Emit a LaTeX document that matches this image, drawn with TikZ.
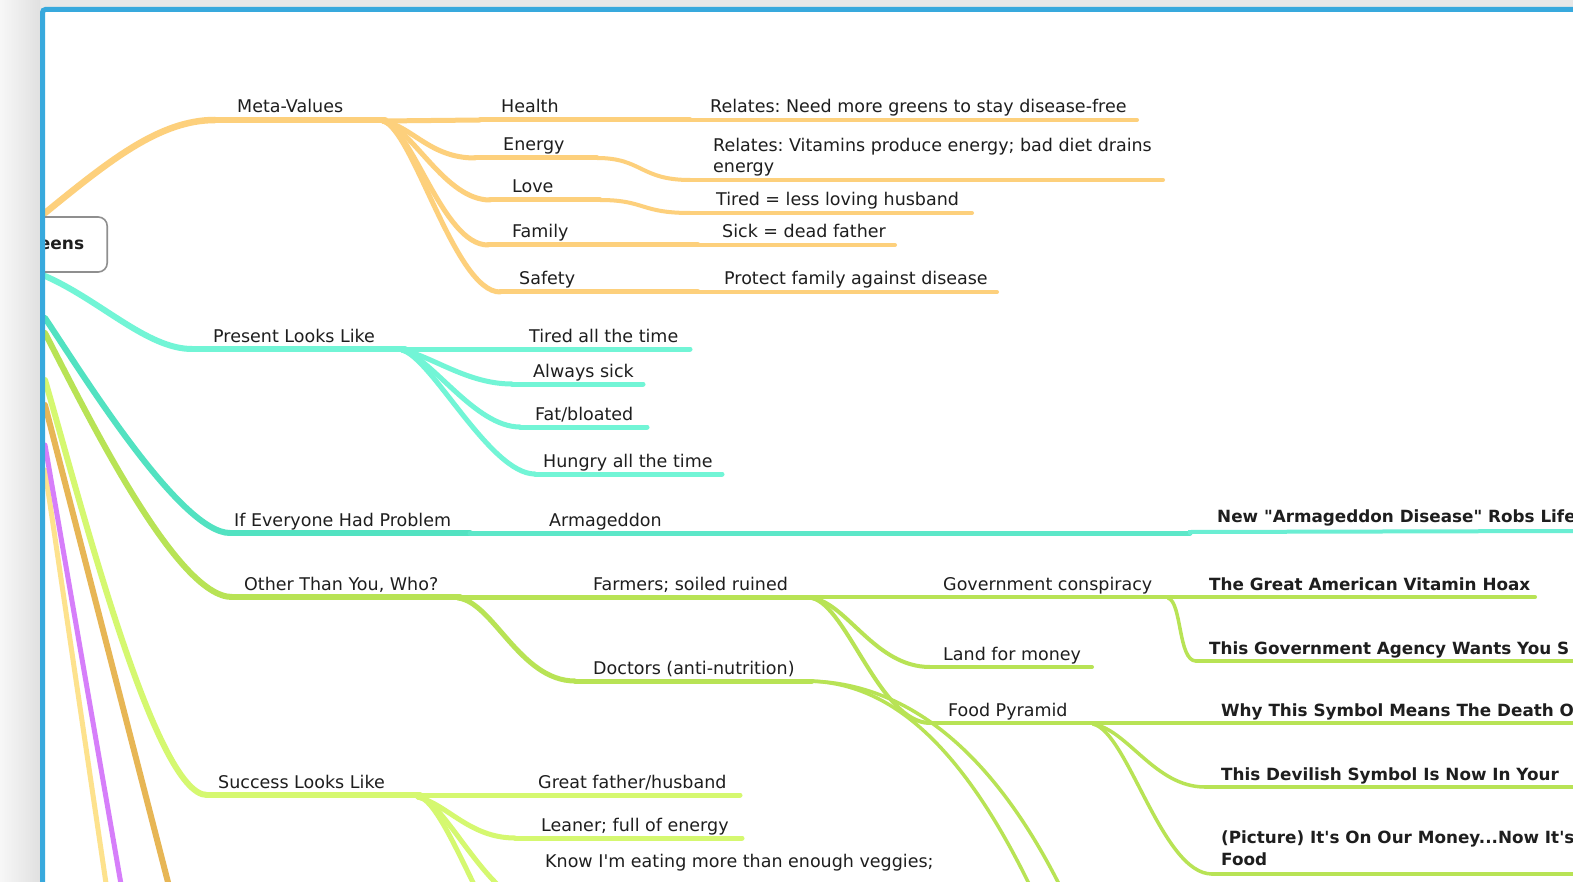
\documentclass[tikz,border=0pt]{standalone}
\usepackage{fontspec}
\setmainfont{DejaVu Sans}
\newfontfamily\dv{DejaVu Sans}
\frenchspacing
\definecolor{bggray}{HTML}{E8E8E8}
\definecolor{frameblue}{HTML}{38A9DD}
\definecolor{cOrange}{HTML}{FDD07C}
\definecolor{cTeal}{HTML}{72F5D6}
\definecolor{cTealD}{HTML}{52E2C1}
\definecolor{cTealL}{HTML}{6AEED3}
\definecolor{cGreen}{HTML}{B8E355}
\definecolor{cLime}{HTML}{D5F870}
\definecolor{cGold}{HTML}{E7B655}
\definecolor{cPurple}{HTML}{D67EFA}
\definecolor{cPale}{HTML}{FDE28D}
\definecolor{rootgray}{HTML}{8F8F8F}
\definecolor{txt}{HTML}{1E1E1E}
\tikzset{
  ln/.style={line cap=round},
  lbl/.style={anchor=base west, inner sep=0pt, text=txt, font=\dv\fontsize{17.5}{21.5}\selectfont\frenchspacing},
  hd/.style={anchor=base west, inner sep=0pt, text=txt, font=\dv\fontsize{16.8}{21.5}\selectfont\bfseries\frenchspacing},
  rootbox/.style={draw=rootgray, line width=1.6pt, rounded corners=9pt, fill=white,
    minimum height=55pt, minimum width=100pt, inner xsep=23pt, text width=54pt, align=right,
    text=txt, font=\dv\fontsize{17}{20}\selectfont\bfseries},
}
% topic: name, x1, x2, y, xtext, line style, label style, text
\newcommand\tp[8]{%
  \coordinate (#1-a) at (#2,#4);
  \coordinate (#1-b) at (#3,#4);
  \draw[ln,#6] (#1-a) -- (#1-b);
  \node[#7] (#1) at (#5,{#4-7}) {#8};
}
% connector: from, to, style, first control (rel. to start), second control (rel. to end)
\newcommand\cn[5]{\draw[ln,#3] (#1) .. controls +(#4) and +(#5) .. (#2);}
\begin{document}
\begin{tikzpicture}[x=1pt,y=-1pt]
\useasboundingbox (0,0) rectangle (1573,882);
% background and canvas
\fill[bggray] (0,0) rectangle (1573,882);
\shade[left color=white!97!black, right color=white!88!black] (0,0) rectangle (40,882);
\fill[white] (42,9) rectangle (1573,882);

\begin{scope}
\clip (44,11) rectangle (1573,882);

% ---------- root anchors
\coordinate (r-mv) at (45,213);
\coordinate (r-pr) at (45,276);
\coordinate (r-if) at (45,318);
\coordinate (r-ot) at (45,333);
\coordinate (r-su) at (45,380);
\coordinate (r-go) at (45,405);
\coordinate (r-pu) at (45,445);
\coordinate (r-pa) at (45,470);
\coordinate (e-go) at (170,890);
\coordinate (e-pu) at (122,890);
\coordinate (e-pa) at (107,890);

% ---------- off-canvas branches
\draw[ln,cPale,line width=5pt] (r-pa) -- (e-pa);
\draw[ln,cPurple,line width=5pt] (r-pu) -- (e-pu);
\draw[ln,cGold,line width=6pt] (r-go) -- (e-go);

% ---------- Meta-Values (orange)
\tp{mv}{215}{385}{120}{237}{cOrange,line width=6.5pt}{lbl}{Meta-Values}
\cn{r-mv}{mv-a}{cOrange,line width=6.5pt}{65,-53}{-55,0}
\coordinate (mv-f) at (383,121);
\tp{health}{480}{690}{120}{501}{cOrange,line width=5pt}{lbl}{Health}
\draw[ln,cOrange,line width=5pt] (mv-f) -- (health-a);
\tp{rel1}{690}{1137}{120}{710}{cOrange,line width=4pt}{lbl}{Relates: Need more greens to stay disease-free}
\tp{energy}{475}{597}{158}{503}{cOrange,line width=5pt}{lbl}{Energy}
\cn{mv-f}{energy-a}{cOrange,line width=5pt}{30,6}{-45,0}
\coordinate (rel2-a) at (690,180);
\coordinate (rel2-b) at (1163,180);
\draw[ln,cOrange,line width=4pt] (rel2-a) -- (rel2-b);
\node[lbl,align=left] (rel2) at (713,173) {Relates: Vitamins produce energy; bad diet drains\\energy};
\cn{energy-b}{rel2-a}{cOrange,line width=4pt}{45,0}{-50,0}
\tp{love}{490}{600}{200}{512}{cOrange,line width=5pt}{lbl}{Love}
\cn{mv-f}{love-a}{cOrange,line width=5pt}{30,8}{-45,0}
\tp{tired}{690}{972}{213}{716}{cOrange,line width=4pt}{lbl}{Tired = less loving husband}
\cn{love-b}{tired-a}{cOrange,line width=4pt}{45,0}{-50,0}
\tp{family}{488}{698}{245}{512}{cOrange,line width=5pt}{lbl}{Family}
\cn{mv-f}{family-a}{cOrange,line width=5pt}{30,8}{-45,0}
\tp{sick}{698}{895}{245}{722}{cOrange,line width=4pt}{lbl}{Sick = dead father}
\tp{safety}{500}{698}{292}{519}{cOrange,line width=5pt}{lbl}{Safety}
\cn{mv-f}{safety-a}{cOrange,line width=5pt}{30,8}{-45,0}
\tp{protect}{698}{997}{292}{724}{cOrange,line width=4pt}{lbl}{Protect family against disease}

% ---------- Present Looks Like (teal)
\tp{pr}{192}{405}{349}{213}{cTeal,line width=6pt}{lbl}{Present Looks Like}
\cn{r-pr}{pr-a}{cTeal,line width=6pt}{55,24}{-45,0}
\coordinate (pr-f) at (402,350);
\tp{tall}{405}{690}{349}{529}{cTeal,line width=5pt}{lbl}{Tired all the time}
\tp{always}{512}{643}{384}{533}{cTeal,line width=5pt}{lbl}{Always sick}
\cn{pr-f}{always-a}{cTeal,line width=5pt}{30,6}{-45,0}
\tp{fat}{520}{647}{427}{535}{cTeal,line width=5pt}{lbl}{Fat/bloated}
\cn{pr-f}{fat-a}{cTeal,line width=5pt}{30,8}{-45,0}
\tp{hungry}{535}{722}{474}{543}{cTeal,line width=5pt}{lbl}{Hungry all the time}
\cn{pr-f}{hungry-a}{cTeal,line width=5pt}{30,8}{-45,0}

% ---------- If Everyone Had Problem (dark teal)
\tp{ifev}{230}{470}{533}{234}{cTealD,line width=6pt}{lbl}{If Everyone Had Problem}
\cn{r-if}{ifev-a}{cTealD,line width=6pt}{35,52}{-50,0}
\tp{arma}{470}{1190}{533}{549}{cTealD!60!cTealL,line width=5pt}{lbl}{Armageddon}
\coordinate (armh-a) at (1190,532);
\coordinate (armh-b) at (1573,531);
\draw[ln,cTealL,line width=4pt] (arma-b) -- (armh-a) -- (armh-b);
\node[hd] (armh) at (1217,522) {New "Armageddon Disease" Robs Life};

% ---------- Other Than You, Who? (green)
\tp{other}{232}{460}{597}{244}{cGreen,line width=6pt}{lbl}{Other Than You, Who?}
\cn{r-ot}{other-a}{cGreen,line width=6pt}{45,87}{-55,0}
\coordinate (ot-f) at (458,598);
\tp{farmers}{460}{812}{597}{593}{cGreen,line width=5pt}{lbl}{Farmers; soiled ruined}
\coordinate (fa-f) at (812,598);
\tp{gov}{812}{1170}{597}{943}{cGreen,line width=4pt}{lbl}{Government conspiracy}
\tp{hoax}{1170}{1535}{597}{1209}{cGreen,line width=4pt}{hd}{The Great American Vitamin Hoax}
\coordinate (gov-f) at (1168,598);
\tp{agency}{1196}{1573}{661}{1209}{cGreen,line width=3.5pt}{hd}{This Government Agency Wants You S}
\cn{gov-f}{agency-a}{cGreen,line width=3.5pt}{14,4}{-18,0}
\tp{land}{930}{1092}{667}{943}{cGreen,line width=4pt}{lbl}{Land for money}
\cn{fa-f}{land-a}{cGreen,line width=4pt}{35,5}{-55,0}
\tp{food}{930}{1095}{723}{948}{cGreen,line width=4pt}{lbl}{Food Pyramid}
\cn{fa-f}{food-a}{cGreen,line width=4pt}{35,8}{-50,0}
\tp{why}{1095}{1573}{723}{1221}{cGreen,line width=4pt}{hd}{Why This Symbol Means The Death O}
\coordinate (food-f) at (1093,724);
\tp{devil}{1205}{1573}{787}{1221}{cGreen,line width=3.5pt}{hd}{This Devilish Symbol Is Now In Your}
\cn{food-f}{devil-a}{cGreen,line width=3.5pt}{35,6}{-50,0}
\coordinate (pic-a) at (1212,874);
\coordinate (pic-b) at (1573,874);
\draw[ln,cGreen,line width=3.5pt] (pic-a) -- (pic-b);
\node[hd,align=left] (pic) at (1221,865) {(Picture) It's On Our Money...Now It's\\Food};
\cn{food-f}{pic-a}{cGreen,line width=3.5pt}{35,8}{-50,0}
\tp{doctors}{575}{812}{681}{593}{cGreen,line width=5pt}{lbl}{Doctors (anti-nutrition)}
\cn{ot-f}{doctors-a}{cGreen,line width=5pt}{35,4}{-55,0}
\coordinate (doc-f) at (805,681);
\coordinate (doc-c1) at (1032,890);
\coordinate (doc-c2) at (1062,890);
\draw[ln,cGreen,line width=3.5pt] (doc-f) .. controls (880,681) and (955,730) .. (doc-c1);
\draw[ln,cGreen,line width=3.5pt] (doc-f) .. controls (885,681) and (980,725) .. (doc-c2);

% ---------- Success Looks Like (lime)
\tp{success}{207}{420}{795}{218}{cLime,line width=6pt}{lbl}{Success Looks Like}
\cn{r-su}{success-a}{cLime,line width=6pt}{35,120}{-52,0}
\coordinate (su-f) at (418,797);
\tp{great}{420}{740}{795}{538}{cLime,line width=5pt}{lbl}{Great father/husband}
\tp{leaner}{515}{742}{838}{541}{cLime,line width=5pt}{lbl}{Leaner; full of energy}
\cn{su-f}{leaner-a}{cLime,line width=5pt}{30,8}{-45,0}
\coordinate (know-a) at (535,905);
\coordinate (su-c2) at (550,990);
\node[lbl] (know) at (545,867) {Know I'm eating more than enough veggies;};
\cn{su-f}{know-a}{cLime,line width=5pt}{25,0}{-45,0}
\cn{su-f}{su-c2}{cLime,line width=5pt}{30,0}{-45,0}

% ---------- root node
\node[rootbox,anchor=east] (root) at (108,244.5) {eens};
\end{scope}

% frame
\draw[frameblue,line width=5pt,rounded corners=3pt] (42.5,882) -- (42.5,9.5) -- (1573,9.5);
\end{tikzpicture}
\end{document}
